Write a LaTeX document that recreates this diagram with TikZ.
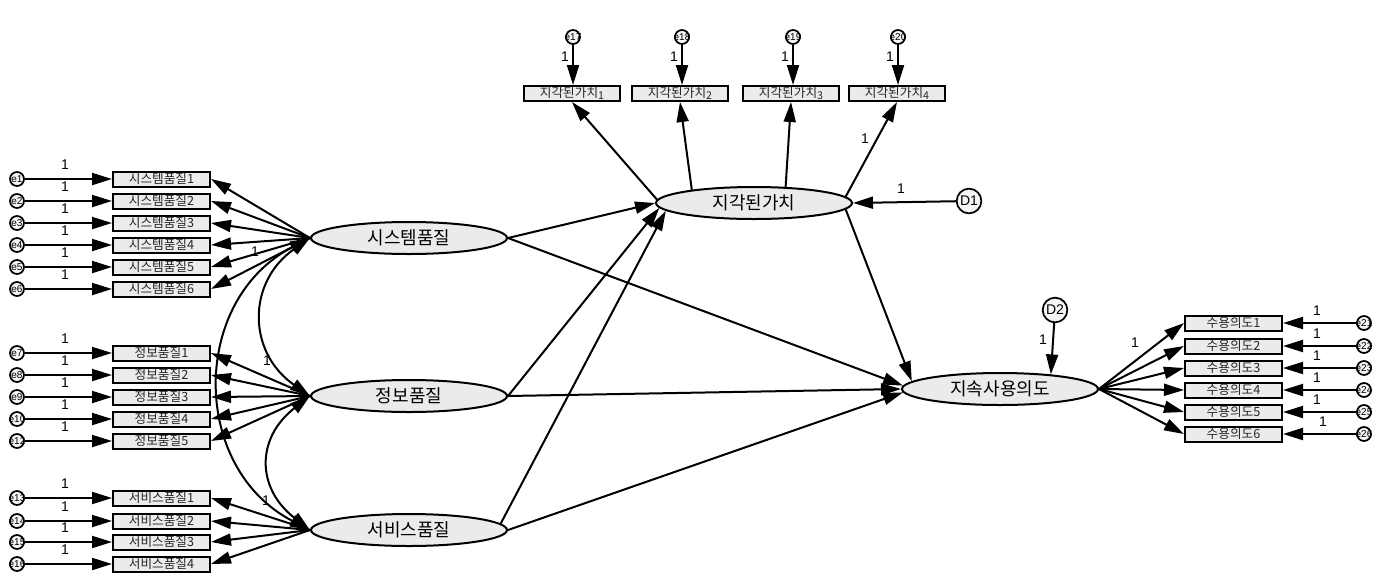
\documentclass[tikz,border=0pt]{standalone}
\usepackage{fontspec}
\setmainfont{Liberation Sans}
\newfontfamily\kr{Noto Sans CJK KR}
\usetikzlibrary{arrows.meta,shapes.geometric,calc}
\begin{document}
\begin{tikzpicture}[x=0.75pt,y=-0.75pt,
  ln/.style={line width=1.5pt},
  arr/.style={ln,-{Triangle[length=15pt,width=9pt]}},
  darr/.style={ln,{Triangle[length=15pt,width=9pt]}-{Triangle[length=15pt,width=9pt]}},
  obs/.style={draw,line width=1.5pt,fill=gray!16,minimum width=72.75pt,minimum height=11.25pt,inner sep=0pt,font=\kr\fontsize{9.5}{10}\selectfont,text=black!85},
  lat/.style={ellipse,draw,line width=1.5pt,fill=gray!16,minimum width=147pt,minimum height=24pt,inner sep=0pt,font=\kr\fontsize{13.5}{14}\selectfont},
  err/.style={circle,draw,line width=1.3pt,fill=gray!8,minimum size=10.5pt,inner sep=0pt},
  errl/.style={font=\fontsize{7.5}{7.5}\selectfont,inner sep=0pt},
  dist/.style={circle,draw,line width=1.3pt,fill=gray!8,minimum size=18.5pt,inner sep=0pt,font=\fontsize{10.5}{10.5}\selectfont},
  one/.style={font=\fontsize{10.5}{11}\selectfont,inner sep=0pt}
]
\useasboundingbox (0,0) rectangle (1377,583);

% latent variables
\node[lat] (sys) at (409,238) {시스템품질};
\node[lat] (info) at (409,396) {정보품질};
\node[lat] (svc) at (409,530) {서비스품질};
\node[lat] (pv) at (754,203) {지각된가치};
\node[lat] (ui) at (1000,389) {지속사용의도};

% system quality indicators
\foreach \i/\y in {1/179,2/201,3/223,4/245,5/267,6/289} {
  \node[obs] (s\i) at (161.5,\y) {시스템품질\i};
  \node[err,label={[errl]center:e\i}] (es\i) at (17,\y) {};
  \draw[arr] (es\i) -- (s\i);
  \node[one] (ls\i) at (65,\y-14) {1};
  \draw[arr] (sys.west) -- (s\i.east);
}
% information quality indicators
\foreach \i/\y/\e in {1/353/7,2/375/8,3/397/9,4/419/10,5/441/12} {
  \node[obs] (q\i) at (161.5,\y) {정보품질\i};
  \node[err,label={[errl]center:e\e}] (eq\i) at (17,\y) {};
  \draw[arr] (eq\i) -- (q\i);
  \node[one] (lq\i) at (65,\y-14) {1};
  \draw[arr] (info.west) -- (q\i.east);
}
% service quality indicators
\foreach \i/\y/\e in {1/498/13,2/521/14,3/542/15,4/564/16} {
  \node[obs] (v\i) at (161.5,\y) {서비스품질\i};
  \node[err,label={[errl]center:e\e}] (ev\i) at (17,\y) {};
  \draw[arr] (ev\i) -- (v\i);
  \node[one] (lv\i) at (65,\y-14) {1};
  \draw[arr] (svc.west) -- (v\i.east);
}
\node[one] (l1s) at (255,252) {1};
\node[one] (l1q) at (267,361) {1};
\node[one] (l1v) at (266,501) {1};

% covariances
\draw[darr] (sys.west) .. controls (247,282) and (247,352) .. (info.west);
\draw[darr] (info.west) .. controls (256,438) and (256,488) .. (svc.west);
\draw[darr] (sys.west) .. controls (190,300) and (190,468) .. (svc.west);

% perceived value indicators
\foreach \i/\x/\ex/\e in {1/572/573/17,2/680/682/18,3/791/793/19,4/897/898/20} {
  \node[obs,minimum width=72pt] (b\i) at (\x,93.5) {지각된가치\raisebox{-1.5pt}{\fontsize{8}{8}\selectfont\i}};
  \node[err,label={[errl]center:e\e}] (eb\i) at (\ex,37) {};
  \draw[arr] (eb\i) -- (eb\i |- b\i.north);
  \node[one] (lb\i) at (\ex-8,57) {1};
}
\draw[arr] (pv.178) -- (b1.south);
\draw[arr] (pv.168) -- (b2.south);
\draw[arr] (pv.27) -- (b3.south);
\draw[arr] (pv.4) -- (b4.south);
\node[one] (l1b) at (865,139) {1};

% intention indicators
\foreach \i/\y/\e in {1/323/21,2/346/22,3/368/23,4/390/24,5/412/25,6/434/26} {
  \node[obs] (r\i) at (1233.5,\y) {수용의도\i};
  \node[err,label={[errl]center:e\e}] (er\i) at (1364,\y) {};
  \draw[arr] (er\i) -- (r\i);
  \draw[arr] (ui.east) -- (r\i.west);
}
\foreach \i/\x/\y in {1/1317/311,2/1317/334,3/1317/356,4/1317/378,5/1317/400,6/1323/422} {
  \node[one] (lr\i) at (\x,\y) {1};
}
\node[one] (l1r) at (1135,343) {1};

% structural paths
\draw[arr] (sys.east) -- (pv.west);
\draw[arr] (info.east) -- (pv.183);
\draw[arr] (svc.4) -- (pv.185);
\draw[arr] (sys.east) -- (ui.178);
\draw[arr] (info.east) -- (ui.west);
\draw[arr] (svc.east) -- (ui.182);
\draw[arr] (pv.-4) -- (ui.175);

% disturbances
\node[dist] (d1) at (969,201) {D1};
\node[dist] (d2) at (1055,310) {D2};
\draw[arr] (d1) -- (pv.east);
\draw[arr] (d2) -- (ui.16);
\node[one] (ld1) at (901,189) {1};
\node[one] (ld2) at (1043,340) {1};
\end{tikzpicture}
\end{document}
